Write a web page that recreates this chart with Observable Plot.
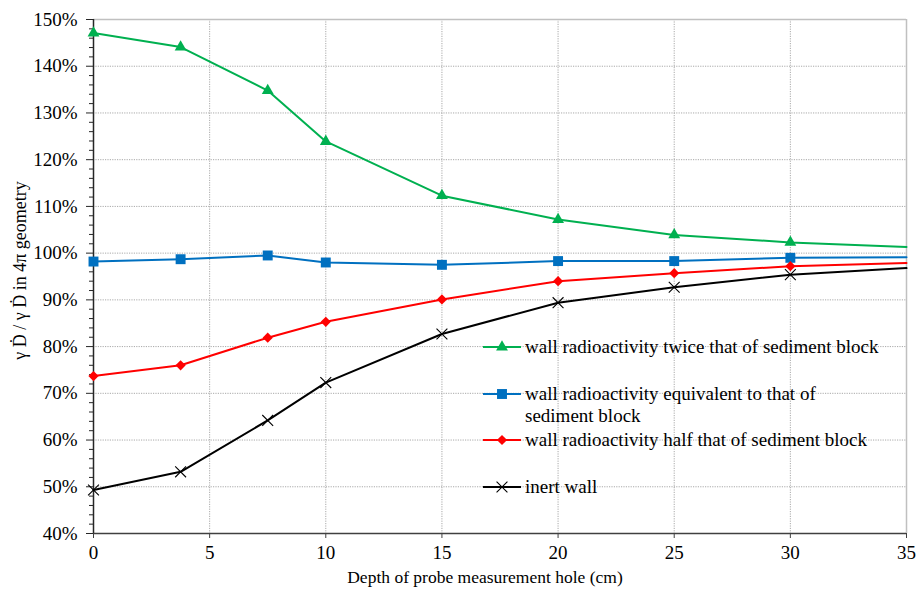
<!DOCTYPE html>
<html>
<head>
<meta charset="utf-8">
<script src="https://cdn.jsdelivr.net/npm/d3@7"></script>
<script src="https://cdn.jsdelivr.net/npm/@observablehq/plot@0.6"></script>
<style>
  body { margin: 0; background: #fff; }
  #chart { position: relative; width: 917px; height: 591px; font-family: "Liberation Serif", "Times New Roman", serif; color: #000; }
  #legend { position: absolute; left: 483px; top: 336px; }
  .row { height: 46.67px; display: flex; align-items: flex-start; }
  .row svg { flex: none; display: block; }
  .row span { font-size: 19px; line-height: 22px; margin-left: 4px; width: 360px; }
</style>
</head>
<body>
<div id="chart"><div id="legend"></div></div>
<script>
// Depth of the probe hole (cm) and the ratio to the 4π dose rate (%)
const depth = [0, 3.75, 7.5, 10, 15, 20, 25, 30, 35];
const twice      = [147.1, 144.1, 134.8, 123.9, 112.3, 107.2, 103.9, 102.3, 101.3];
const equivalent = [98.2, 98.7, 99.5, 98.0, 97.5, 98.3, 98.3, 99.0, 99.1];
const half       = [73.7, 76.0, 81.9, 85.3, 90.1, 94.0, 95.7, 97.2, 97.9];
const inert      = [49.3, 53.2, 64.2, 72.3, 82.7, 89.4, 92.7, 95.4, 96.8];

const seriesNames = [
  "wall radioactivity twice that of sediment block",
  "wall radioactivity equivalent to that of sediment block",
  "wall radioactivity half that of sediment block",
  "inert wall"
];
const seriesValues = [twice, equivalent, half, inert];
const seriesColors = ["#00b050", "#0070c0", "#ff0000", "#000000"];
const seriesSymbols = ["triangle", "square", "diamond2", "times"];
const seriesRadius = [4.4, 5.6, 4.6, 5.0];

const xTicks = [0, 5, 10, 15, 20, 25, 30, 35];
const yTicks = [40, 50, 60, 70, 80, 90, 100, 110, 120, 130, 140, 150];
const yMinor = d3.range(40, 151, 2).filter(v => v % 10 !== 0);

const xTitle = "Depth of probe measurement hole (cm)";
const yTitle = "γ Ḋ / γ Ḋ in 4π geometry";

const rows = seriesNames.flatMap((name, i) =>
  depth.map((d, j) => ({series: name, depth: d, value: seriesValues[i][j]})));

const lastDepth = d3.max(xTicks);

// Markers stop at the last measured depth; the lines run on to the frame edge
const dotMarks = seriesNames.map((name, i) => {
  const pts = rows.filter(r => r.series === name && r.depth < lastDepth);
  const stroked = seriesSymbols[i] === "times";
  return Plot.dot(pts, {
    x: "depth", y: "value", symbol: () => seriesSymbols[i], r: seriesRadius[i],
    fill: stroked ? "none" : seriesColors[i],
    stroke: stroked ? seriesColors[i] : "none",
    strokeWidth: stroked ? 1.1 : 0
  });
});

const grid = {stroke: "#a9a9a9", strokeOpacity: 1, strokeDasharray: "1.2,1.2", strokeWidth: 1};

const plot = Plot.plot({
  width: 917,
  height: 591,
  marginLeft: 93,
  marginRight: 11,
  marginTop: 19,
  marginBottom: 58,
  style: {fontFamily: "Liberation Serif, Times New Roman, serif", fontSize: "19px", color: "#000", background: "#fff"},
  x: {domain: [0, 35], label: null},
  y: {domain: [40, 150], label: null},
  color: {domain: seriesNames, range: seriesColors},
  marks: [
    Plot.gridY(yTicks.filter(v => v > 40 && v < 150), grid),
    Plot.gridX(xTicks.filter(v => v > 0 && v < 35), grid),
    Plot.ruleY([150], {stroke: "#c0c0c0", strokeWidth: 1.5}),
    Plot.ruleX([35], {stroke: "#c0c0c0", strokeWidth: 1.5}),
    Plot.axisY(yMinor, {tickSize: 4, tickFormat: () => "", label: null, stroke: "#262626"}),
    Plot.axisY(yTicks, {tickSize: 7, tickPadding: 9, tickFormat: d => d + "%", label: null, fontSize: 19, stroke: "#262626"}),
    Plot.axisX(xTicks, {tickSize: 5, tickPadding: 7, label: null, fontSize: 19, stroke: "#404040"}),
    Plot.ruleY([40], {stroke: "#404040", strokeWidth: 1.5}),
    Plot.ruleX([0], {stroke: "#262626", strokeWidth: 1.5}),
    Plot.line(rows, {x: "depth", y: "value", z: "series", stroke: "series", strokeWidth: 2}),
    ...dotMarks,
    Plot.text([xTitle], {frameAnchor: "bottom", dy: 49, dx: -15, fontSize: 17.5, textAnchor: "middle"}),
    Plot.text([yTitle], {frameAnchor: "left", dx: -73, dy: -6, rotate: -90, fontSize: 18, textAnchor: "middle"})
  ]
});
document.getElementById("chart").prepend(plot);

// Legend placed inside the plotting area
const legend = d3.select("#legend");
seriesNames.forEach((name, i) => {
  const row = legend.append("div").attr("class", "row");
  const svg = row.append("svg").attr("width", 38).attr("height", 22);
  svg.append("line").attr("x1", 0).attr("x2", 38).attr("y1", 11).attr("y2", 11)
    .attr("stroke", seriesColors[i]).attr("stroke-width", 2);
  const sym = {triangle: d3.symbolTriangle, square: d3.symbolSquare, diamond2: d3.symbolDiamond2, times: d3.symbolTimes}[seriesSymbols[i]];
  const size = Math.PI * seriesRadius[i] * seriesRadius[i];
  const stroked = seriesSymbols[i] === "times";
  svg.append("path").attr("transform", "translate(19,11)").attr("d", d3.symbol(sym, size)())
    .attr("fill", stroked ? "none" : seriesColors[i])
    .attr("stroke", stroked ? seriesColors[i] : "none")
    .attr("stroke-width", stroked ? 1.1 : 0);
  row.append("span").text(name);
});
</script>
</body>
</html>
